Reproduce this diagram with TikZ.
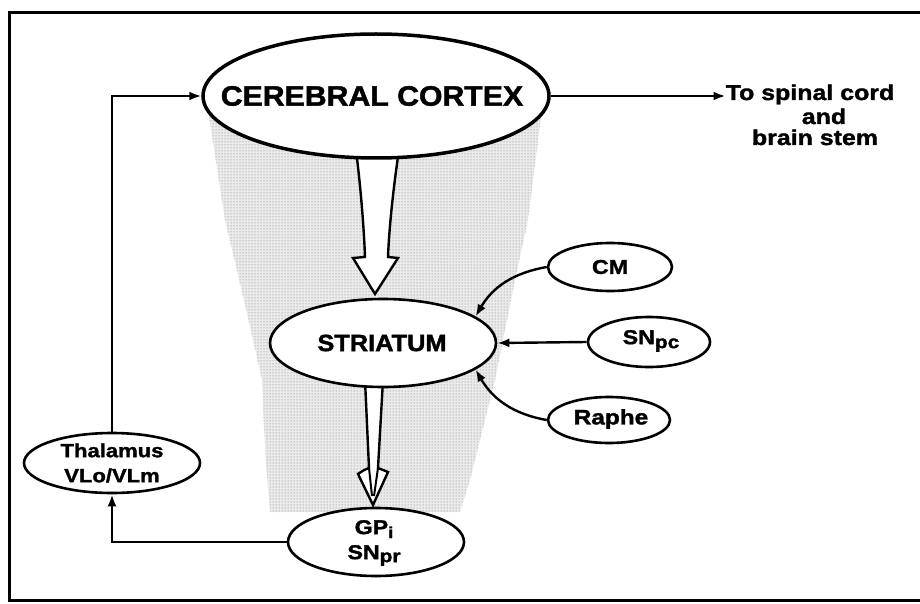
\documentclass[tikz,border=0pt]{standalone}
\usepackage{fontspec}
\setmainfont{Liberation Sans}[FakeStretch=1.08, BoldFeatures={FakeBold=1.6}]
\newfontfamily\widefont{Liberation Sans}[FakeStretch=1.16, BoldFeatures={FakeBold=1.6}]
\usetikzlibrary{arrows.meta,patterns,shapes.geometric}
\begin{document}
\begin{tikzpicture}[x=1pt,y=-1pt,
  ell/.style={draw, ellipse, line width=2.6pt, fill=white, inner sep=0pt},
  lbl/.style={font=\widefont\bfseries\fontsize{19}{25}\selectfont, align=center, inner sep=0pt},
  conn/.style={line width=2.4pt, -{Latex[length=12pt,width=9pt]}},
  hollow/.style={draw, line width=2.4pt, fill=white, line join=miter},
  cone/.style={fill=black!8}
]
\useasboundingbox (0,0) rectangle (920,604);
% frame
\draw[line width=3pt] (9,13) rectangle (940,600);
% stippled cone
\path[cone]
  (208,110) -- (542,110) -- (528,220) -- (515,280) -- (495,380) -- (470,480) -- (460,512)
  -- (270,512) -- (265,450) -- (262,380) -- (247,313) -- (225,220) -- cycle;
\path[pattern=dots, pattern color=black!55]
  (208,110) -- (542,110) -- (528,220) -- (515,280) -- (495,380) -- (470,480) -- (460,512)
  -- (270,512) -- (265,450) -- (262,380) -- (247,313) -- (225,220) -- cycle;
% hollow arrows
\path[hollow] (356,150) .. controls (361,190) and (364,230) .. (365,257) -- (353,258)
  -- (375,294) -- (398,258) -- (388,257) .. controls (389,230) and (393,190) .. (399,150) -- cycle;
\path[hollow] (365,380) -- (369,468) .. controls (364,470) .. (358,474) -- (373,505)
  -- (388,472) .. controls (383,470) .. (378,468) -- (383,380) -- cycle;
\draw[line width=2pt] (369,468) -- (372,496) (378,468) -- (374,496);
% ellipses
\node[ell, line width=3.5pt, minimum width=346pt, minimum height=124pt] (cortex) at (376,96) {};
\node[ell, minimum width=226pt, minimum height=88pt] (strt) at (383,343) {};
\node[ell, minimum width=176pt, minimum height=68pt] (gp) at (376,542) {};
\node[ell, minimum width=176pt, minimum height=60pt] (thal) at (112,463) {};
\node[ell, minimum width=124pt, minimum height=48pt] (cm) at (610,267) {};
\node[ell, minimum width=122pt, minimum height=50pt] (snpc) at (649,342) {};
\node[ell, minimum width=122pt, minimum height=46pt] (raphe) at (609,420) {};
% labels
\node[lbl, font=\bfseries\fontsize{28}{30}\selectfont] (tcortex) at (372,96) {CEREBRAL CORTEX};
\node[lbl, font=\bfseries\fontsize{23.5}{24}\selectfont] (tstr) at (382,343) {STRIATUM};
\node[lbl, font=\widefont\bfseries\fontsize{20}{25}\selectfont] (tgp) at (374,543) {GP\raisebox{-4pt}{\fontsize{16}{16}\selectfont i}\\SN\raisebox{-3pt}{\fontsize{18}{18}\selectfont pr}};
\node[lbl] (tthal) at (112,463) {Thalamus\\VLo/VLm};
\node[lbl, font=\widefont\bfseries\fontsize{20}{24}\selectfont] (tcm) at (610,267) {CM};
\node[lbl, font=\widefont\bfseries\fontsize{20}{24}\selectfont] (tsnpc) at (651,341) {SN\raisebox{-4pt}{\fontsize{18}{18}\selectfont pc}};
\node[lbl, font=\widefont\bfseries\fontsize{21}{24}\selectfont] (traphe) at (611,419) {Raphe};
\node[lbl, font=\widefont\bfseries\fontsize{21.5}{24}\selectfont, anchor=base] (tsc) at (810,100) {To spinal cord};
\node[lbl, font=\widefont\bfseries\fontsize{21.5}{24}\selectfont, anchor=base] (tand) at (824,124) {and};
\node[lbl, font=\widefont\bfseries\fontsize{21.5}{24}\selectfont, anchor=base] (tbs) at (815,145) {brain stem};
% connectors
\draw[conn] (cortex.east) -- (cortex.east -| tsc.west);
\draw[conn] (gp.west) -| (thal.south);
\draw[conn] (thal.north) |- (cortex.west);
\draw[conn] (cm.west) to[out=190,in=60] (strt.16);
\draw[conn] (snpc.west) -- (strt.east);
\draw[conn] (raphe.west) to[out=170,in=-60] (strt.-16);
\end{tikzpicture}
\end{document}
